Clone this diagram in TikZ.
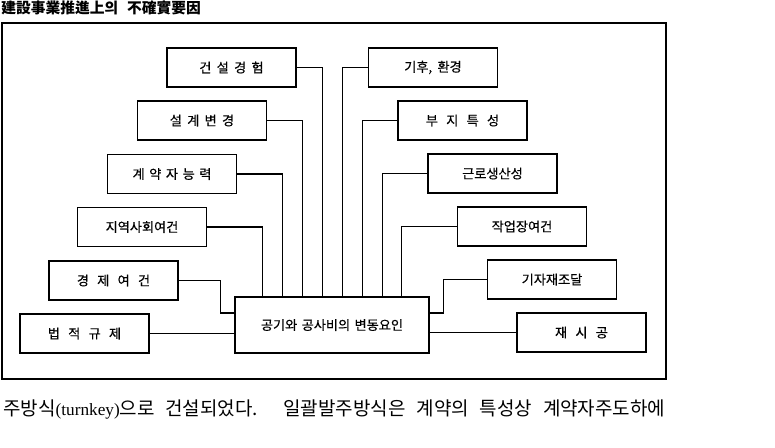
\documentclass[tikz,border=0pt]{standalone}
\usepackage{fontspec}
\newfontfamily\kr{Noto Sans CJK KR}
\newfontfamily\krb{Noto Sans CJK KR}[FakeBold=0.5]
\newfontfamily\tm{Liberation Serif}
\usetikzlibrary{calc}
\newcommand{\ws}{\hspace{4.7pt}}
\newcommand{\ns}{\hspace{3pt}}
\newcommand{\ms}{\hspace{2.6pt}}
\tikzset{
  factor/.style={draw, line width=0.8pt, minimum width=2.58cm, minimum height=0.78cm,
    inner sep=0pt, font=\krb\fontsize{7.5}{8}\selectfont},
  link/.style={line width=0.65pt},
}
\begin{document}
\begin{tikzpicture}[x=0.02cm, y=-0.02cm]
\useasboundingbox (0,0) rectangle (775,447);
% Title and frame
\node[anchor=west, inner sep=0pt, font=\kr\bfseries\fontsize{8.4}{9}\selectfont] (title) at (1,8) {建設事業推進上의\hspace{5pt}不確實要因};
\draw[line width=0.8pt] (2,23) rectangle (666,379);
% Centre box
\node[factor, minimum width=3.88cm, minimum height=1.12cm] (center) at (332,325) {공기와\hspace{2.5pt}공사비의\hspace{2.5pt}변동요인};
% Left factors
\node[factor] (exp) at (231.5,67.5) {건\ns{}설\ns{}경\ns{}험};
\node[factor] (design) at (202,120.5) {설\ns{}계\ns{}변\ns{}경};
\node[factor] (contr) at (172,174) {계\ms{}약\ms{}자\ms{}능\ms{}력};
\node[factor] (region) at (142,227) {지역사회여건};
\node[factor] (econ) at (113.5,280.5) {경\ws{}제\ws{}여\ws{}건};
\node[factor] (law) at (84.5,333.5) {법\ws{}적\ws{}규\ws{}제};
% Right factors
\node[factor] (climate) at (433,67.5) {기후,\hspace{3pt}환경};
\node[factor] (site) at (462.5,120.5) {부\ws{}지\ws{}특\ws{}성};
\node[factor] (labor) at (492.5,173.5) {근로생산성};
\node[factor] (work) at (522,226.5) {작업장여건};
\node[factor] (equip) at (552,279.5) {기자재조달};
\node[factor] (redo) at (581.5,332.5) {재\ws{}시\ws{}공};
% Connectors to the top of the centre box
\draw[link] (exp.east) -| ($(center.north west)+(88,0)$);
\draw[link] (design.east) -| ($(center.north west)+(68,0)$);
\draw[link] (contr.east) -| ($(center.north west)+(48,0)$);
\draw[link] (region.east) -| ($(center.north west)+(28,0)$);
\draw[link] (climate.west) -| ($(center.north west)+(108,0)$);
\draw[link] (site.west) -| ($(center.north west)+(128,0)$);
\draw[link] (labor.west) -| ($(center.north west)+(148,0)$);
\draw[link] (work.west) -| ($(center.north west)+(167,0)$);
% Connectors to the sides
\draw[link] (econ.east) -- ++(42,0) |- ($(center.west)+(0,-12)$);
\draw[link] (law.east) -- (law.east -| center.west);
\draw[link] (equip.west) -- ++(-43,0) |- ($(center.east)+(0,-12)$);
\draw[link] (redo.west) -- (redo.west -| center.east);
% Running text below
\node[anchor=west, inner sep=0pt, font=\kr\fontsize{10.8}{12}\selectfont] (body) at (3,410)
  {\makebox[13.24cm][s]{주방식{\tm\fontsize{9.8}{11}\selectfont(turnkey)}으로 건설되었다. 일괄발주방식은 계약의 특성상 계약자주도하에}};
\end{tikzpicture}
\end{document}
